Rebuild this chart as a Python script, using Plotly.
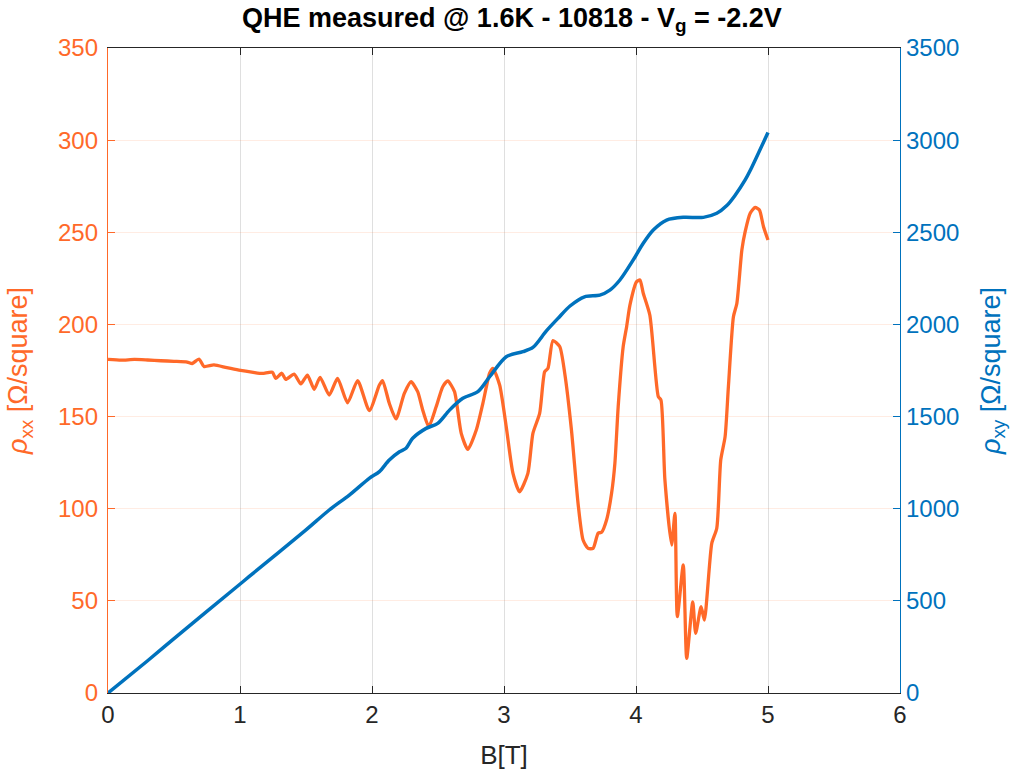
import plotly.graph_objects as go

# rho_xx (left axis, Ohm/square)
B_xx = [0.00, 0.10, 0.20, 0.30, 0.40, 0.50, 0.60, 0.638, 0.689, 0.727, 0.803, 0.90, 0.992, 1.10, 1.169,
        1.245, 1.271, 1.317, 1.347, 1.410, 1.461, 1.511, 1.562, 1.607, 1.676, 1.739, 1.815, 1.891, 1.980,
        2.056, 2.080, 2.131, 2.182, 2.245, 2.296, 2.346, 2.384, 2.430, 2.486, 2.536, 2.574, 2.625, 2.676,
        2.726, 2.790, 2.840, 2.891, 2.916, 2.967, 3.017, 3.068, 3.118, 3.181, 3.219, 3.270, 3.308, 3.333,
        3.371, 3.422, 3.460, 3.511, 3.561, 3.599, 3.637, 3.675, 3.713, 3.739, 3.777, 3.815, 3.840, 3.865,
        3.903, 3.929, 3.954, 4.005, 4.030, 4.055, 4.105, 4.169, 4.189, 4.219, 4.270, 4.295, 4.313, 4.358,
        4.384, 4.430, 4.452, 4.493, 4.518, 4.574, 4.612, 4.642, 4.675, 4.700, 4.738, 4.764, 4.802, 4.827,
        4.865, 4.903, 4.935, 4.966, 5.000]
rho_xx = [181.0, 180.6, 181.0, 180.7, 180.3, 180.0, 179.6, 178.8, 181.2, 177.2, 178.0, 176.5, 175.2, 174.0, 173.4,
          174.0, 170.7, 173.5, 170.2, 173.0, 167.7, 172.5, 164.8, 171.3, 161.7, 170.7, 157.5, 169.5, 153.2,
          167.1, 169.5, 157.2, 148.7, 162.6, 168.9, 163.5, 153.6, 144.5, 155.3, 166.2, 169.3, 163.5, 140.9,
          132.2, 142.7, 157.2, 173.5, 176.2, 167.1, 144.5, 119.2, 109.2, 119.2, 140.9, 151.7, 174.3, 176.2,
          191.2, 188.0, 173.5, 142.7, 102.9, 83.0, 78.5, 78.5, 86.7, 87.2, 93.9, 108.4, 124.6, 155.3,
          188.0, 198.8, 210.5, 223.2, 224.1, 216.9, 205.0, 160.8, 159.0, 115.6, 80.3, 97.5, 41.4, 69.5,
          18.8, 49.5, 32.4, 46.8, 39.6, 81.2, 89.4, 126.4, 139.1, 166.2, 204.2, 211.4, 240.4, 250.3,
          260.3, 263.5, 262.1, 253.0, 245.8]

# rho_xy (right axis, Ohm/square)
B_xy = [0.00, 0.30, 0.50, 0.992, 1.068, 1.50, 1.676, 1.828, 1.979, 2.056, 2.131, 2.208, 2.258, 2.308, 2.410,
        2.498, 2.587, 2.688, 2.802, 2.891, 3.017, 3.143, 3.219, 3.321, 3.409, 3.50, 3.61, 3.726, 3.802,
        3.878, 3.979, 4.055, 4.131, 4.232, 4.358, 4.510, 4.612, 4.688, 4.750, 4.827, 4.865, 5.000]
rho_xy = [0, 175, 295, 586, 631, 885, 993, 1074, 1165, 1201, 1264, 1309, 1328, 1382, 1436,
          1463, 1535, 1599, 1635, 1716, 1825, 1852, 1875, 1965, 2033, 2100, 2150, 2159, 2186,
          2241, 2350, 2440, 2512, 2566, 2581, 2581, 2603, 2645, 2700, 2784, 2835, 3042]

x_ticks = [0, 1, 2, 3, 4, 5, 6]
y_ticks = [0, 50, 100, 150, 200, 250, 300, 350]
y2_ticks = [0, 500, 1000, 1500, 2000, 2500, 3000, 3500]

ORANGE = "#FF6929"
BLUE = "#0072BD"
DARK = "#262626"
FONT = "Liberation Sans, Arial, Helvetica, sans-serif"

fig = go.Figure()
fig.add_trace(go.Scatter(x=B_xx, y=rho_xx, mode="lines", line=dict(color=ORANGE, width=3.3, shape="spline", smoothing=0.6),
                         yaxis="y", showlegend=False))
fig.add_trace(go.Scatter(x=B_xy, y=rho_xy, mode="lines", line=dict(color=BLUE, width=3.5, shape="spline", smoothing=0.8),
                         yaxis="y2", showlegend=False))

fig.update_layout(
    width=1030, height=778,
    margin=dict(l=108, r=130, t=48, b=85),
    paper_bgcolor="white", plot_bgcolor="white",
    font=dict(family=FONT, size=24, color=DARK),
    title=dict(text="<b>QHE measured @ 1.6K - 10818 - V<sub>g</sub> = -2.2V</b>",
               x=0.497, xref="container", xanchor="center", y=0.978, yref="container", yanchor="middle",
               font=dict(family=FONT, size=27, color="black")),
    xaxis=dict(range=[0, 6], tickvals=x_ticks, ticktext=[str(v) for v in x_ticks],
               showgrid=True, gridcolor="rgba(38,38,38,0.15)", gridwidth=1,
               showline=True, linecolor=DARK, linewidth=1.3, mirror="ticks",
               ticks="inside", ticklen=7, tickcolor=DARK, zeroline=False,
               tickfont=dict(size=24, color=DARK),
               title=dict(text="B[T]", font=dict(size=26, color=DARK), standoff=18)),
    yaxis=dict(range=[0, 350], tickvals=y_ticks, ticktext=[str(v) for v in y_ticks],
               showgrid=True, gridcolor="rgba(255,105,41,0.13)", gridwidth=1,
               showline=True, linecolor=ORANGE, linewidth=1.3,
               ticks="inside", ticklen=7, tickcolor=ORANGE, zeroline=False,
               tickfont=dict(size=24, color=ORANGE), ticklabelstandoff=4,
               title=dict(text="<i>ρ</i><sub>xx</sub> [Ω/square]", font=dict(size=27, color=ORANGE), standoff=22)),
    yaxis2=dict(range=[0, 3500], tickvals=y2_ticks, ticktext=[str(v) for v in y2_ticks],
                overlaying="y", side="right", showgrid=False,
                showline=True, linecolor=BLUE, linewidth=1.3,
                ticks="inside", ticklen=7, tickcolor=BLUE, zeroline=False,
                tickfont=dict(size=24, color=BLUE),
                title=dict(text="<i>ρ</i><sub>xy</sub> [Ω/square]", font=dict(size=27, color=BLUE), standoff=22)),
)

fig.write_html("out.html")
